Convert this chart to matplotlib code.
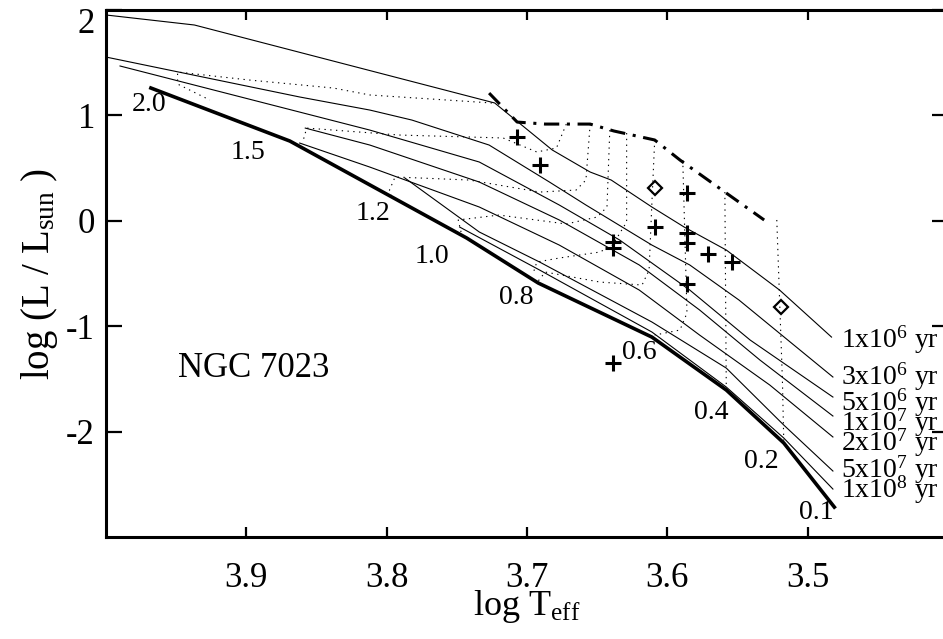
import numpy as np
import matplotlib
matplotlib.use('Agg')
import matplotlib.pyplot as plt
import matplotlib.transforms as mtransforms

plt.rcParams['font.family'] = 'Liberation Serif'
plt.rcParams['mathtext.fontset'] = 'custom'
plt.rcParams['mathtext.rm'] = 'Liberation Serif'
plt.rcParams['mathtext.it'] = 'Liberation Serif:italic'

# ZAMS (thick line) and the masses marked along it
zams_t = [3.968, 3.869, 3.743, 3.692, 3.611, 3.558, 3.517, 3.481]
zams_l = [1.260, 0.757, -0.163, -0.590, -1.103, -1.605, -2.108, -2.716]
mass_lab = ["2.0", "1.5", "1.2", "1.0", "0.8", "0.6", "0.4", "0.2", "0.1"]
mass_t = [3.969, 3.899, 3.810, 3.768, 3.708, 3.620, 3.569, 3.533, 3.494]
mass_l = [1.099, 0.653, 0.074, -0.334, -0.723, -1.245, -1.814, -2.279, -2.763]

# birthline (dash-dot)
birth_t = [3.727, 3.707, 3.687, 3.655, 3.638, 3.609, 3.591, 3.559, 3.531]
birth_l = [1.212, 0.937, 0.918, 0.918, 0.852, 0.767, 0.577, 0.273, 0.008]

# isochrones, youngest first
iso_lab = ["1x10$^6$ yr", "3x10$^6$ yr", "5x10$^6$ yr", "1x10$^7$ yr",
           "2x10$^7$ yr", "5x10$^7$ yr", "1x10$^8$ yr"]
iso_t = [
    [4.000, 3.937, 3.723, 3.682, 3.655, 3.640, 3.611, 3.588, 3.558, 3.520, 3.483],
    [4.000, 3.862, 3.812, 3.782, 3.727, 3.684, 3.658, 3.611, 3.584, 3.549, 3.482],
    [3.990, 3.812, 3.734, 3.677, 3.634, 3.584, 3.541, 3.482],
    [3.858, 3.812, 3.734, 3.677, 3.620, 3.577, 3.534, 3.482],
    [3.862, 3.812, 3.734, 3.677, 3.620, 3.577, 3.527, 3.482],
    [3.787, 3.734, 3.691, 3.611, 3.558, 3.517, 3.482],
    [3.748, 3.691, 3.611, 3.558, 3.517, 3.482],
]
iso_l = [
    [1.953, 1.858, 1.118, 0.672, 0.463, 0.387, 0.131, -0.059, -0.277, -0.657, -1.103],
    [1.554, 1.175, 1.051, 0.956, 0.719, 0.368, 0.150, -0.230, -0.419, -0.751, -1.482],
    [1.469, 0.861, 0.558, 0.150, -0.182, -0.657, -1.131, -1.672],
    [0.880, 0.719, 0.368, 0.008, -0.419, -0.846, -1.321, -1.852],
    [0.738, 0.510, 0.131, -0.230, -0.657, -1.084, -1.558, -2.051],
    [0.406, -0.106, -0.391, -0.960, -1.397, -1.938, -2.374],
    [-0.059, -0.467, -1.055, -1.577, -2.061, -2.545],
]
iso_lab_l = [-1.131, -1.482, -1.729, -1.918, -2.108, -2.364, -2.554]

# pre-main-sequence tracks (dotted)
trk_t = [
    [3.725, 3.812, 3.838, 3.898, 3.949, 3.949, 3.926],
    [3.672, 3.679, 3.693, 3.717, 3.791, 3.857, 3.860],
    [3.655, 3.658, 3.665, 3.691, 3.741, 3.794, 3.798, 3.796],
    [3.641, 3.643, 3.650, 3.672, 3.720, 3.749, 3.747],
    [3.629, 3.629, 3.639, 3.648, 3.677, 3.693, 3.696],
    [3.609, 3.611, 3.613, 3.618, 3.648, 3.687, 3.692],
    [3.589, 3.586, 3.591, 3.609],
    [3.559, 3.558],
    [3.522, 3.518, 3.517],
]
trk_l = [
    [1.118, 1.194, 1.260, 1.336, 1.412, 1.298, 1.146],
    [0.918, 0.691, 0.653, 0.786, 0.814, 0.880, 0.738],
    [0.918, 0.387, 0.292, 0.273, 0.387, 0.416, 0.292, 0.207],
    [0.861, 0.131, 0.036, -0.030, 0.055, 0.008, -0.106],
    [0.833, -0.011, -0.230, -0.296, -0.353, -0.391, -0.514],
    [0.767, 0.169, -0.467, -0.609, -0.581, -0.486, -0.571],
    [0.577, -0.875, -1.036, -1.084],
    [0.273, -1.587],
    [0.008, -1.511, -2.108],
]

# stars in NGC 7023
star_t = [3.707, 3.691, 3.586, 3.609, 3.639, 3.639, 3.586, 3.586, 3.571, 3.554, 3.586, 3.639]
star_l = [0.795, 0.529, 0.264, -0.059, -0.201, -0.258, -0.116, -0.211, -0.315, -0.391, -0.600, -1.349]
diam_t = [3.609, 3.519]
diam_l = [0.311, -0.818]

fig = plt.figure(figsize=(9.43, 6.39), dpi=100)
ax = fig.add_axes([0.1124, 0.1596, 0.8929, 0.8247])

for t, l in zip(trk_t, trk_l):
    ax.plot(t, l, color='k', lw=0.8, linestyle=(0, (1.2, 4)))
for t, l in zip(iso_t, iso_l):
    ax.plot(t, l, 'k-', lw=0.8)
ax.plot(zams_t, zams_l, 'k-', lw=2.6, solid_joinstyle='miter')
ax.plot(birth_t, birth_l, color='k', lw=2.2, linestyle=(0, (5, 2.5, 1, 2.5)))
ax.plot(star_t, star_l, 'k+', ms=11, mew=2.2, linestyle='none')
ax.plot(diam_t, diam_l, 'kD', ms=7, mfc='none', mew=1.6, linestyle='none')

for s, t, l in zip(mass_lab, mass_t, mass_l):
    ax.text(t, l, s, fontsize=20, ha='center', va='center')
for s, l in zip(iso_lab, iso_lab_l):
    ax.text(3.476, l, s, fontsize=20, ha='left', va='center')
ax.text(3.949, -1.397, "NGC 7023", fontsize=25, ha='left', va='center')

ax.set_xlim(4.0, 3.4)
ax.set_ylim(-3.0, 2.0)
ax.set_xticks([3.9, 3.8, 3.7, 3.6, 3.5])
ax.set_yticks([-2, -1, 0, 1, 2])
ax.set_yticklabels(["-2", "-1", "0", "1", "2"])
ax.tick_params(axis='x', direction='in', top=True, length=7, width=1.6, labelsize=25, pad=18)
ax.tick_params(axis='y', direction='in', right=True, length=11.5, width=1.6, labelsize=25, pad=8)
for sp in ax.spines.values():
    sp.set_linewidth(2.2)
ax.set_xlabel("log T$_{\\rm eff}$", fontsize=26, labelpad=-5)
ax.set_ylabel("log (L / L$_{\\rm sun}$ )", fontsize=28, labelpad=4)

# top tick label sits a little lower so it stays inside the figure
top_lab = ax.get_yticklabels()[-1]
top_lab.set_transform(top_lab.get_transform() +
                      mtransforms.ScaledTranslation(0, -0.1, fig.dpi_scale_trans))

fig.savefig('out.png', dpi=100)
